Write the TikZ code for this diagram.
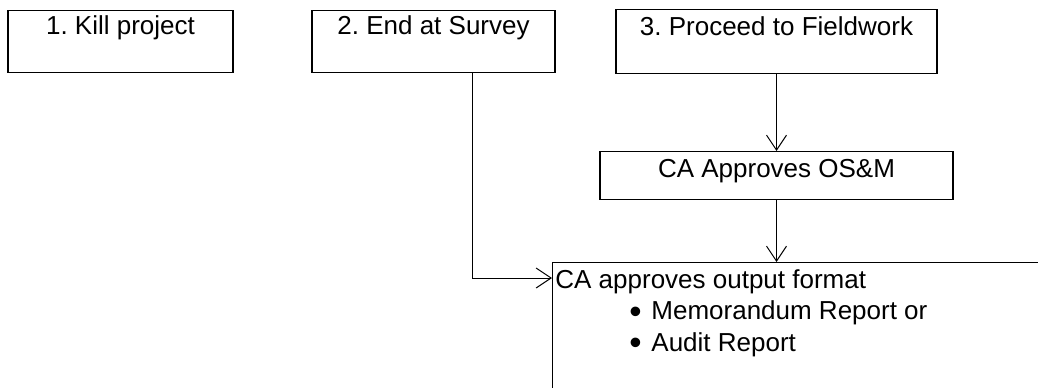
\documentclass[tikz,border=0pt]{standalone}
\usepackage{fontspec}
\setmainfont{Liberation Sans}
\usepackage{tikz}
\usetikzlibrary{arrows.meta}
\frenchspacing

\newcommand{\listdot}{\makebox[11pt][l]{\raisebox{-1.6pt}{\scalebox{1.35}{\textbullet}}}}

\begin{document}
\begin{tikzpicture}[x=0.5pt,y=-0.5pt,
    box/.style={draw,line width=0.7pt,inner sep=0pt,anchor=north,
      font=\fontsize{13}{15.6}\selectfont},
    arr/.style={line width=0.5pt,-{Straight Barb[length=7.5pt,width=10pt]}}]
  \clip (0,0) rectangle (1038,387);
  % upper boxes (widths in pt, half the coordinate units)
  \node[box,minimum width=112.5pt,text height=12pt,text depth=19pt] at(120.5,10)(kill){1. Kill project};
  \node[box,minimum width=121.5pt,text height=12pt,text depth=19pt] at(433.5,10)(survey){2. End at Survey};
  \node[box,minimum width=160.5pt,text height=13pt,text depth=19pt] at(776.5,9)(fieldwork){3. Proceed to Fieldwork};
  % middle box
  \node[box,minimum width=176.5pt,text height=13pt,text depth=11pt] at(776.5,151)(osm){CA Approves OS\&M};
  % lower box, runs off the page
  \node[box,anchor=north west,minimum width=260pt,minimum height=75pt] at(552,262)(output){};
  \node[anchor=base west,inner sep=0pt,align=left,font=\fontsize{13}{15.6}\selectfont] at(555,351)(format){%
    CA approves output format\\
    \hspace*{37pt}\listdot Memorandum Report or\\
    \hspace*{37pt}\listdot Audit Report};
  % arrows
  \coordinate (bend) at(472,278);
  \draw[arr] (fieldwork.south) -- (osm.north);
  \draw[arr] (osm.south) -- (osm.south |- output.north);
  \draw[arr] (bend |- survey.south) -- (bend) -- (bend -| output.west);
\end{tikzpicture}
\end{document}
